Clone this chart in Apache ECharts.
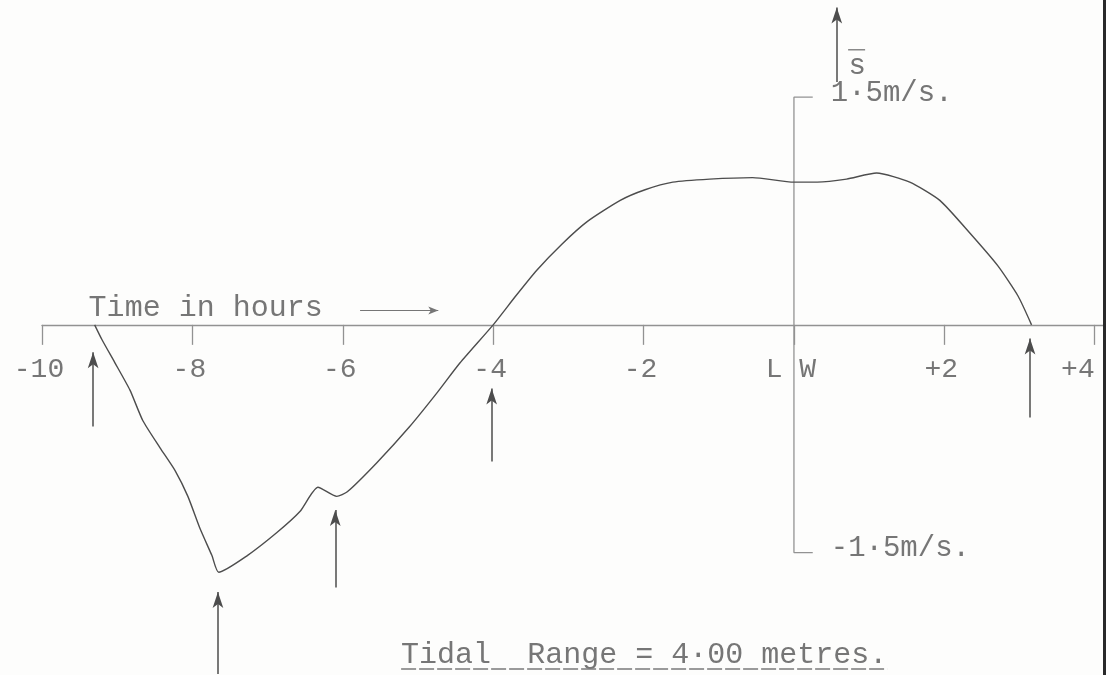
<!DOCTYPE html>
<html>
<head>
<meta charset="utf-8">
<title>Tidal current</title>
<script src="https://cdn.jsdelivr.net/npm/echarts@6/dist/echarts.min.js"></script>
<style>
  html, body { margin: 0; padding: 0; background: #fdfdfc; }
  #chart { width: 1106px; height: 675px; }
</style>
</head>
<body>
<div id="chart"></div>
<script>
// Mean current speed (m/s) against time relative to low water (hours)
const hours = [-9.30, -9.20, -9.03, -8.83, -8.66, -8.43, -8.23, -8.06, -7.90, -7.74, -7.65,
               -7.27, -6.88, -6.57, -6.33, -6.08, -5.94, -5.55, -5.11, -4.75, -4.44, -4.00,
               -3.70, -3.42, -3.09, -2.75, -2.31, -1.98, -1.61, -1.12, -0.55, 0.00,
               0.31, 0.70, 1.10, 1.54, 1.94, 2.33, 2.71, 2.98, 3.16];
const speed = [0.00, -0.10, -0.25, -0.43, -0.63, -0.81, -0.96, -1.13, -1.34, -1.52, -1.63,
               -1.52, -1.37, -1.23, -1.07, -1.13, -1.10, -0.91, -0.67, -0.45, -0.25, 0.00,
               0.19, 0.36, 0.53, 0.68, 0.82, 0.89, 0.94, 0.96, 0.97, 0.94,
               0.94, 0.96, 1.00, 0.94, 0.82, 0.61, 0.39, 0.19, 0.00];

// Time axis ticks and their labels
const tickHours = [-10, -8, -6, -4, -2, 0, 2, 4];
const tickLabels = ['-10', '-8', '-6', '-4', '-2', 'L W', '+2', '+4'];

// Marked instants (slack water, strongest ebb, secondary peak)
const arrowHours = [-9.32, -7.66, -6.10, -4.02, 3.14];
const arrowHead  = [-0.18, -1.76, -1.22, -0.42, -0.09];
const arrowTail  = [-0.67, -2.30, -1.73, -0.90, -0.61];

// Speed scale bar
const scaleSpeed = [1.5, -1.5];
const scaleLabels = ['1·5m/s.', '-1·5m/s.'];

const tidalRange = 4.00;

const ink = '#4d4d4d';
const typeInk = '#767676';
const rule = '#929292';
const mono = '"Liberation Mono", "DejaVu Sans Mono", monospace';

const chart = echarts.init(document.getElementById('chart'), null, { renderer: 'canvas' });

const curve = hours.map((h, i) => [h, speed[i]]);
const bracketLen = 0.25;
const scaleBar = [
  [bracketLen, scaleSpeed[0]], [0, scaleSpeed[0]],
  [0, scaleSpeed[1]], [bracketLen, scaleSpeed[1]]
];

const arrowLines = arrowHours.map((h, i) => [
  { coord: [h, arrowTail[i]], symbol: 'none' },
  { coord: [h, arrowHead[i]], symbol: 'arrow', symbolSize: [8, 16] }
]);
// direction arrows: speed axis and time axis
arrowLines.push([
  { coord: [0.57, 1.60], symbol: 'none' },
  { coord: [0.57, 2.09], symbol: 'arrow', symbolSize: [8, 16] }
]);
arrowLines.push([
  { coord: [-5.77, 0.095], symbol: 'none', lineStyle: { color: typeInk, width: 1.2 } },
  { coord: [-4.73, 0.095], symbol: 'arrow', symbolSize: [6, 10] }
]);

chart.setOption({
  backgroundColor: '#fdfdfc',
  animation: false,
  grid: { left: 42, right: 0, top: 0, bottom: 1, containLabel: false, outerBoundsMode: 'none' },
  xAxis: {
    type: 'value',
    min: -10,
    max: 4.15,
    axisLine: { show: true, onZero: true, lineStyle: { color: rule, width: 1.3 } },
    axisTick: { show: true, customValues: tickHours, length: 20, lineStyle: { color: rule, width: 1.3 } },
    axisLabel: { show: false },
    splitLine: { show: false }
  },
  yAxis: {
    type: 'value',
    min: -2.3,
    max: 2.14,
    axisLine: { show: false },
    axisTick: { show: false },
    axisLabel: { show: false },
    splitLine: { show: false }
  },
  series: [
    {
      name: 'speed',
      type: 'line',
      data: curve,
      smooth: 0.2,
      showSymbol: false,
      symbol: 'none',
      lineStyle: { color: ink, width: 1.4 },
      z: 3
    },
    {
      name: 'scale',
      type: 'line',
      data: scaleBar,
      showSymbol: false,
      symbol: 'none',
      lineStyle: { color: rule, width: 1.3 },
      z: 2
    },
    {
      name: 'arrows',
      type: 'line',
      data: [],
      markLine: {
        silent: true,
        animation: false,
        label: { show: false },
        lineStyle: { color: ink, type: 'solid', width: 1.5 },
        data: arrowLines
      }
    }
  ]
});

// Typed annotations placed at data positions
const px = (t, v) => chart.convertToPixel({ gridIndex: 0 }, [t, v]);
const font = size => size + 'px ' + mono;
const measure = (txt, size) => {
  const ctx = document.createElement('canvas').getContext('2d');
  ctx.font = font(size);
  return ctx.measureText(txt).width;
};

const g = [];
const addText = (txt, p, size, align, dy) => {
  g.push({
    type: 'text', x: p[0], y: p[1] + (dy || 0), z: 10,
    style: { text: txt, font: font(size), fill: typeInk, align: align, verticalAlign: 'middle' }
  });
};

// hour labels under the time axis; the last one sits against the page edge
tickHours.forEach((h, i) => {
  const p = px(h, 0);
  const last = i === tickHours.length - 1;
  addText(tickLabels[i], [last ? p[0] : p[0] - 3, p[1] + 45], 28, last ? 'right' : 'center');
});

addText('Time in hours', px(-9.38, 0.11), 30, 'left');

scaleSpeed.forEach((v, i) => {
  const p = px(bracketLen, v);
  addText(scaleLabels[i], [p[0] + 18, p[1]], 29, 'left', -4);
});

// speed symbol with overbar beside the vertical arrow
const sp = px(0.84, 1.70);
addText('s', sp, 29, 'center');
g.push({ type: 'line', z: 10, shape: { x1: sp[0] - 9, y1: sp[1] - 17, x2: sp[0] + 8, y2: sp[1] - 17 },
         style: { stroke: typeInk, lineWidth: 1.3 } });

// footnote with typed underline
const title = 'Tidal  Range = ' + tidalRange.toFixed(2).replace('.', '·') + ' metres.';
const tp = px(1.24, -2.175);
addText(title, tp, 30, 'right');
const tw = measure(title, 30);
g.push({ type: 'line', z: 10, shape: { x1: tp[0] - tw, y1: tp[1] + 14, x2: tp[0], y2: tp[1] + 14 },
         style: { stroke: '#7a7a7a', lineWidth: 1.4, lineDash: [15, 3] } });

// scan edge on the right
g.push({ type: 'rect', right: 0, top: 0, z: 20, shape: { width: 3, height: 675 }, style: { fill: '#2a2a2a' } });

chart.setOption({ graphic: g });
</script>
</body>
</html>
